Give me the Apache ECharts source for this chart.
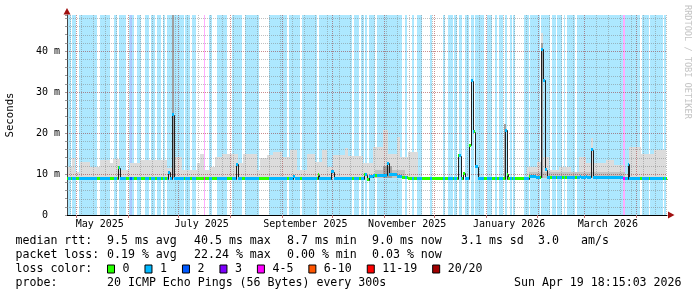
<!DOCTYPE html>
<html><head><meta charset="utf-8">
<script src="https://cdn.jsdelivr.net/npm/echarts@6/dist/echarts.min.js"></script>
<style>html,body{margin:0;padding:0;background:#fff}#c{width:697px;height:297px}</style>
</head><body><div id="c"></div>
<script>
// ---- time frame (x axis = days since START) ----
const START = Date.UTC(2025, 3, 25, 10, 0);
const SPAN_DAYS = 359;
const DAY = 86400000;
const Y_MAX = 48.8;
const SMOKE_LOW = 9.0;

// ---- loss categories ----
const lossCategories = ['0', '1', '2', '3', '4-5', '6-10', '11-19', '20/20'];
const lossColors = ['#26ff00', '#00b8ff', '#0059ff', '#7e00ff', '#ff00ff', '#ff5500', '#ff0000', '#a10000'];

// loss background spans [startDay, endDay, categoryIndex]; elsewhere loss = 0
const lossSpans = [
  [0.4,2.2,1],[3.2,5.4,1],[7.2,17.8,1],[19.7,25.7,1],[28.1,29.7,1],[31.1,35.1,1],
  [37.1,37.7,1],[37.7,39.1,2],[39.1,40.3,1],[41.7,44.5,1],[46.5,49.1,1],[50.4,52.7,1],
  [53.7,56.1,1],[57.4,58.6,1],[59.7,70.0,1],[70.6,73.6,1],[75.0,77.0,1],[82.0,82.7,4],
  [84.8,86.8,1],[89.6,95.9,1],[98.9,104.9,1],[106.3,114.9,1],[121.0,131.6,1],[133.0,139.4,1],
  [140.8,149.4,1],[150.8,170.3,1],[171.7,174.9,1],[175.9,177.7,1],[178.5,179.7,1],[180.7,184.3,1],
  [185.3,200.3,1],[202.2,203.4,1],[206.2,207.6,1],[209.2,212.2,1],[217.2,218.4,1],[224.8,226.2,1],
  [228.1,230.8,1],[231.7,233.2,1],[234.4,236.2,1],[238.1,240.7,1],[241.5,243.5,1],[244.1,249.5,1],
  [251.5,254.1,1],[256.1,257.5,1],[258.7,260.7,1],[262.2,263.4,1],[265.1,266.1,1],[266.7,268.0,1],
  [273.6,276.6,1],[277.0,283.0,1],[283.6,289.0,1],[290.2,292.4,1],[293.0,296.3,1],[297.4,298.1,1],
  [299.0,303.9,1],[305.0,332.8,1],[332.8,334.0,4],[334.0,342.8,1],[343.8,348.2,1],[348.8,356.4,1],
  [357.2,358.4,1]
];

// smoke (ping spread) [startDay, endDay, highMs], light outer band
const smokeOuter = [
  [0.4,2.8,11.8],[2.8,4.8,13.8],[4.8,7.8,10.6],[7.8,10.8,13.0],[10.8,13.8,12.9],[13.8,19.7,11.8],
  [19.7,25.7,13.4],[25.7,27.7,12.6],[27.7,31.7,13.6],[31.7,37.7,11.0],[37.7,43.7,12.6],[43.7,59.7,13.4],
  [59.7,62.6,11.4],[62.6,64.0,48.8],[64.0,68.6,14.2],[68.6,77.6,11.0],[77.6,79.6,12.6],[79.6,82.0,14.9],
  [82.0,85.6,11.0],[85.6,88.6,11.8],[88.6,92.6,14.2],[92.6,102.5,14.8],[102.5,105.5,12.6],[105.5,113.5,14.9],
  [113.5,115.5,11.0],[115.5,119.5,13.8],[119.5,123.4,14.6],[123.4,128.5,15.4],[128.5,133.4,14.2],[133.4,137.4,15.9],
  [137.4,143.4,11.0],[143.4,148.4,15.0],[148.4,152.4,13.0],[152.4,155.4,15.9],[155.4,159.3,11.8],[159.3,166.3,14.6],
  [166.3,168.3,16.3],[168.3,177.3,14.4],[177.3,183.3,12.6],[183.3,189.3,16.7],[189.3,192.2,20.7],[192.2,197.3,15.0],
  [197.3,199.2,19.1],[199.2,204.2,14.2],[204.2,210.2,15.4],
  [261.7,262.9,22.2],
  [275.0,281.0,11.8],[281.0,283.8,13.0],[283.8,285.0,44.3],[285.0,288.4,14.2],[288.4,294.4,11.0],[294.4,301.6,11.8],
  [301.6,306.4,10.6],[306.4,310.5,14.2],[310.5,313.3,12.7],[313.3,314.9,18.7],[314.9,322.5,12.6],[322.5,327.3,13.4],
  [327.3,333.3,12.2],[333.3,336.3,10.0],[336.3,343.4,16.7],[343.4,351.2,15.0],[351.2,358.4,15.9]
];
// mid-grey inner smoke [startDay, endDay, highMs]
const smokeInner = [
  [184.5,202.2,11.0],[276.4,333.9,10.4]
];
// dark core smoke around the largest spikes [startDay, endDay, highMs]
const smokeCore = [
  [62.6,64.0,48.8],[189.3,194.7,12.0],[261.7,262.9,22.2],[283.8,285.0,42.0]
];

// median rtt steps [fromDay, ms] (value holds until next entry)
const medianSteps = [
  [0,8.9],[30.5,11.5],[31.5,8.9],[60.4,10.4],[61.4,8.9],[62.6,24.5],[63.8,8.9],[101.1,12.4],[102.5,8.9],
  [135.2,9.3],[136.4,8.9],[150.2,9.8],[151.0,8.9],[158.1,10.6],[159.8,8.9],[177.7,9.8],[179.3,8.6],
  [180.9,9.3],[183.1,9.7],[191.3,12.6],[192.5,9.8],[197.6,9.4],[200.6,9.2],[203.9,8.9],[233.9,14.5],
  [235.7,8.9],[237.1,10.2],[238.1,8.9],[240.5,17.0],[241.5,32.7],[243.1,20.3],[244.1,11.8],[246.1,8.9],
  [261.8,20.7],[263.0,8.9],[263.4,10.0],[264.0,8.9],[276.4,9.4],[280.6,9.2],[283.8,40.5],[285.0,32.9],
  [286.0,11.0],[287.0,9.2],[306.9,9.5],[307.5,9.2],[310.5,9.5],[311.1,9.2],[313.3,15.9],[314.9,9.2],
  [332.6,8.9],[335.4,12.4],[336.3,8.9]
];

// axis labels
const xLabelMonths = [[2025,4],[2025,6],[2025,8],[2025,10],[2026,0],[2026,2]];
const xLabelTexts = ['May 2025','July 2025','September 2025','November 2025','January 2026','March 2026'];
const yTickValues = [0, 10, 20, 30, 40];
const yTickTexts = ['0  ', '10 m', '20 m', '30 m', '40 m'];

// legend texts
const statRows = [
  ['median rtt:', ['9.5 ms avg', '40.5 ms max', '8.7 ms min', '9.0 ms now', '3.1 ms sd', '3.0', 'am/s']],
  ['packet loss:', ['0.19 % avg', '22.24 % max', '0.00 % min', '0.03 % now']]
];
const probeText = '20 ICMP Echo Pings (56 Bytes) every 300s';
const dateText = 'Sun Apr 19 18:15:03 2026';

// ---- derived ----
const MONO = '"DejaVu Sans Mono", monospace';
const toDay = t => (t - START) / DAY;
const monthStarts = [];
for (let y = 2025, m = 4; ; m++) {
  if (m > 11) { m = 0; y++; }
  const d = toDay(Date.UTC(y, m, 1));
  if (d > SPAN_DAYS) break;
  monthStarts.push(d);
}
const labelPos = xLabelMonths.map(([y, m]) => toDay(Date.UTC(y, m, 1)) + 14);
const gridLines = [];
for (let v = 2; v < Y_MAX; v += 2) gridLines.push([v, 0, v % 10 === 0 ? 1 : 0]);
monthStarts.forEach(d => gridLines.push([d, 1, 1]));
{
  let t = Date.UTC(2025, 3, 27); // first Sunday after start
  while (toDay(t) < SPAN_DAYS) {
    const d = toDay(t);
    if (!monthStarts.some(ms => Math.abs(ms - d) < 0.01)) gridLines.push([d, 1, 0]);
    t += 7 * DAY;
  }
}
function lossAt(d) { for (const s of lossSpans) if (d >= s[0] && d < s[1]) return s[2]; return 0; }
function medianAt(d) { let v = medianSteps[0][1]; for (const m of medianSteps) { if (m[0] <= d) v = m[1]; else break; } return v; }
const cuts = Array.from(new Set([0, SPAN_DAYS].concat(lossSpans.flatMap(s => [s[0], s[1]]), medianSteps.map(m => m[0])))).sort((a, b) => a - b);
const medianByLoss = lossCategories.map(() => []);
for (let i = 0; i < cuts.length - 1; i++) {
  const a = cuts[i], b = cuts[i + 1], mid = (a + b) / 2;
  medianByLoss[lossAt(mid)].push([a, b, medianAt(mid)]);
}
const darkSteps = medianSteps.map((m, i) => [m[0], i + 1 < medianSteps.length ? medianSteps[i + 1][0] : SPAN_DAYS, m[1], i > 0 ? medianSteps[i - 1][1] : m[1]]);

function alphaColor(hex, a) {
  const n = parseInt(hex.slice(1), 16);
  return 'rgba(' + (n >> 16) + ',' + ((n >> 8) & 255) + ',' + (n & 255) + ',' + a + ')';
}

const chart = echarts.init(document.getElementById('c'), null, { renderer: 'canvas' });

function stripeItem(params, api) {
  const p0 = api.coord([api.value(0), Y_MAX]);
  const p1 = api.coord([api.value(1), 0]);
  const x0 = Math.round(p0[0]), x1 = Math.round(p1[0]);
  return { type: 'rect', shape: { x: x0, y: p0[1], width: Math.max(1, x1 - x0), height: p1[1] - p0[1] },
    style: { fill: alphaColor(lossColors[api.value(2)], 0.32) } };
}
function smokeRenderer(color) {
  return function (params, api) {
    const p0 = api.coord([api.value(0), api.value(2)]);
    const p1 = api.coord([api.value(1), SMOKE_LOW]);
    const x0 = Math.round(p0[0]), x1 = Math.round(p1[0]);
    const y0 = Math.round(p0[1]), y1 = Math.round(p1[1]);
    return { type: 'rect', shape: { x: x0, y: y0, width: Math.max(1, x1 - x0), height: y1 - y0 }, style: { fill: color } };
  };
}
function gridItem(params, api) {
  const v = api.value(0), vert = api.value(1), major = api.value(2);
  let shape;
  if (vert) {
    const pb = api.coord([v, 0]), pt = api.coord([v, Y_MAX]);
    const x = Math.round(pb[0]) + 0.5;
    shape = { x1: x, y1: pt[1], x2: x, y2: pb[1] };
  } else {
    const pl = api.coord([0, v]), pr = api.coord([SPAN_DAYS, v]);
    const y = Math.round(pl[1]) + 0.5;
    shape = { x1: pl[0], y1: y, x2: pr[0], y2: y };
  }
  return { type: 'line', shape, style: { stroke: major ? 'rgba(150,30,30,0.5)' : 'rgba(130,130,130,0.5)', lineWidth: 1, lineDash: [1, 1] } };
}
function darkItem(params, api) {
  const d0 = api.value(0), d1 = api.value(1), v = api.value(2), vp = api.value(3);
  const a = api.coord([d0, v]), b = api.coord([d1, v]), c = api.coord([d0, vp]);
  const x = Math.round(a[0]) + 0.5, y = Math.round(a[1]) + 0.5, yp = Math.round(c[1]) + 0.5;
  return { type: 'group', children: [
    { type: 'line', shape: { x1: x, y1: yp, x2: x, y2: y }, style: { stroke: '#202020', lineWidth: 1 } },
    { type: 'line', shape: { x1: x, y1: y, x2: Math.round(b[0]) + 0.5, y2: y }, style: { stroke: '#202020', lineWidth: 1 } }
  ] };
}
function medianItemFor(color) {
  return function (params, api) {
    const a = api.coord([api.value(0), api.value(2)]), b = api.coord([api.value(1), api.value(2)]);
    const x0 = Math.round(a[0]), x1 = Math.round(b[0]);
    if (x1 - x0 < 1) return null;
    return { type: 'rect', shape: { x: x0, y: Math.round(a[1] - 1.5), width: x1 - x0, height: 3 }, style: { fill: color } };
  };
}

const series = [
  { type: 'custom', name: 'lossbg', coordinateSystem: 'cartesian2d', renderItem: stripeItem, data: lossSpans, z: 1, silent: true },
  { type: 'custom', name: 'smoke', coordinateSystem: 'cartesian2d', renderItem: smokeRenderer('#dcdcdc'), data: smokeOuter, z: 2, silent: true },
  { type: 'custom', name: 'smoke2', coordinateSystem: 'cartesian2d', renderItem: smokeRenderer('#c2c2c2'), data: smokeInner, z: 2, silent: true },
  { type: 'custom', name: 'smoke3', coordinateSystem: 'cartesian2d', renderItem: smokeRenderer('#a0a0a0'), data: smokeCore, z: 2, silent: true },
  { type: 'custom', name: 'grid', coordinateSystem: 'cartesian2d', renderItem: gridItem, data: gridLines, z: 3, silent: true },
  { type: 'custom', name: 'median', coordinateSystem: 'cartesian2d', renderItem: darkItem, data: darkSteps, z: 4, silent: true }
];
lossCategories.forEach((name, i) => {
  series.push({ type: 'custom', name, coordinateSystem: 'cartesian2d', renderItem: medianItemFor(lossColors[i]),
    data: medianByLoss[i], itemStyle: { color: lossColors[i] }, z: 5, silent: true });
});

const graphic = [];
const rowY = [241, 255, 268.8, 282.7];
const colX = [107, 194, 287, 372, 461, 538, 581];
statRows.forEach((row, r) => {
  graphic.push({ type: 'text', x: 15.5, y: rowY[r], style: { text: row[0], font: '11.6px ' + MONO, fill: '#000', verticalAlign: 'middle' } });
  row[1].forEach((t, k) => graphic.push({ type: 'text', x: colX[k], y: rowY[r], style: { text: t, font: '11.6px ' + MONO, fill: '#000', verticalAlign: 'middle' } }));
});
graphic.push({ type: 'text', x: 15.5, y: rowY[2], style: { text: 'loss color:', font: '11.6px ' + MONO, fill: '#000', verticalAlign: 'middle' } });
graphic.push({ type: 'text', x: 15.5, y: rowY[3], style: { text: 'probe:', font: '11.6px ' + MONO, fill: '#000', verticalAlign: 'middle' } });
graphic.push({ type: 'text', x: colX[0], y: rowY[3], style: { text: probeText, font: '11.6px ' + MONO, fill: '#000', verticalAlign: 'middle' } });
graphic.push({ type: 'text', x: 681.5, y: rowY[3], style: { text: dateText, font: '11.6px ' + MONO, fill: '#000', align: 'right', verticalAlign: 'middle' } });
graphic.push({ type: 'text', x: 687, y: 5, rotation: -Math.PI / 2, style: { text: 'RRDTOOL / TOBI OETIKER', font: '8.6px ' + MONO, fill: '#c4c4c4', verticalAlign: 'middle' } });
// axis arrows
graphic.push({ type: 'polygon', shape: { points: [[67, 8], [63.5, 14.5], [70.5, 14.5]] }, style: { fill: '#a01010' }, z: 10 });
graphic.push({ type: 'polygon', shape: { points: [[674.5, 215], [668, 211.5], [668, 218.5]] }, style: { fill: '#a01010' }, z: 10 });

chart.setOption({
  animation: false,
  backgroundColor: '#fff',
  grid: { left: 67, top: 15, width: 600, height: 200, containLabel: false, outerBoundsMode: 'none' },
  xAxis: {
    type: 'value', min: 0, max: SPAN_DAYS,
    axisLine: { show: true, lineStyle: { color: '#000', width: 1 } },
    axisTick: { show: true, customValues: monthStarts, length: 3, lineStyle: { color: '#c07070' } },
    axisLabel: {
      customValues: labelPos, margin: 4, fontFamily: MONO, fontSize: 10, color: '#000',
      formatter: v => { let best = 0; labelPos.forEach((p, i) => { if (Math.abs(p - v) < Math.abs(labelPos[best] - v)) best = i; }); return xLabelTexts[best]; }
    },
    splitLine: { show: false }
  },
  yAxis: {
    type: 'value', min: 0, max: Y_MAX, interval: 2,
    name: 'Seconds', nameLocation: 'middle', nameGap: 51, nameRotate: 90,
    nameTextStyle: { fontFamily: MONO, fontSize: 10.7, color: '#000' },
    axisLine: { show: true, lineStyle: { color: '#444', width: 1 } },
    axisTick: { show: true, length: 2, lineStyle: { color: '#999' } },
    axisLabel: {
      margin: 7, fontFamily: MONO, fontSize: 10, color: '#000',
      formatter: v => { const i = yTickValues.indexOf(v); return i >= 0 ? yTickTexts[i] : ''; }
    },
    splitLine: { show: false }
  },
  legend: {
    data: lossCategories, left: 107, top: 262, padding: 0, icon: 'rect', itemWidth: 7, itemHeight: 8, itemGap: 15,
    selectedMode: false, itemStyle: { borderColor: '#000', borderWidth: 1 },
    textStyle: { fontFamily: MONO, fontSize: 11.6, color: '#000', padding: [0, 0, 0, 3], lineHeight: 14 }
  },
  graphic,
  series
});
</script>
</body></html>
